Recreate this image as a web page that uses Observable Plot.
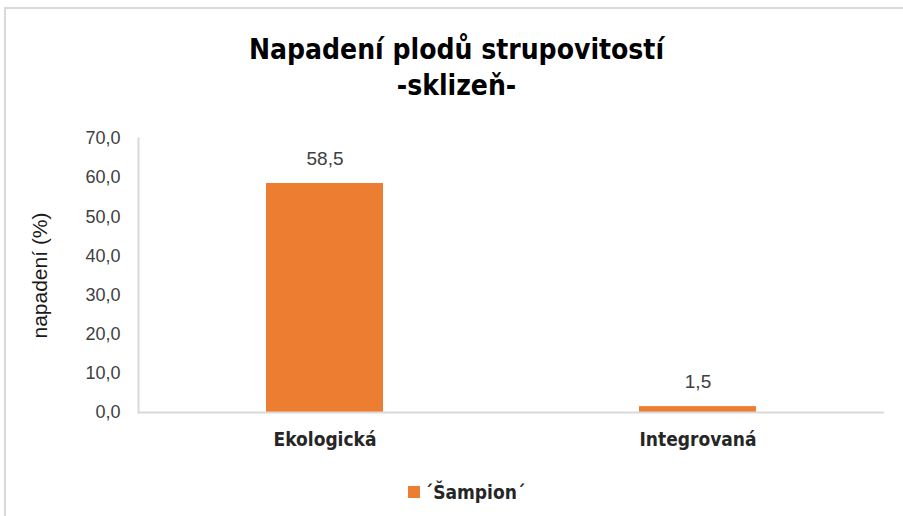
<!DOCTYPE html>
<html>
<head>
<meta charset="utf-8">
<script src="https://cdn.jsdelivr.net/npm/d3@7"></script>
<script src="https://cdn.jsdelivr.net/npm/@observablehq/plot@0.6"></script>
<style>
  html, body { margin: 0; padding: 0; background: #fff; }
  #wrap { position: relative; width: 903px; height: 516px; overflow: hidden; background: #fff; }
  #edge { position: absolute; left: 4px; top: 7px; right: -10px; bottom: -10px;
          border-top: 2px solid #d9d9d9; border-left: 2px solid #d9d9d9; pointer-events: none; }
  #title { height: 118px; box-sizing: border-box; padding-top: 32px; padding-left: 10px; text-align: center;
           font-family: "DejaVu Sans Condensed", "DejaVu Sans", sans-serif; font-stretch: condensed; font-weight: bold;
           font-size: 28px; line-height: 36px; color: #000; }
  #legend { height: 48px; display: flex; justify-content: center; align-items: center; padding-left: 30px;
            font-family: "DejaVu Sans Condensed", "DejaVu Sans", sans-serif; font-stretch: condensed; font-weight: bold;
            font-size: 19px; color: #262626; }
  #legend .sw { width: 12px; height: 12px; background: #ED7D31; margin-right: 5px; }
  svg { display: block; }
</style>
</head>
<body>
<div id="wrap">
  <div id="title">Napadení plodů strupovitostí<br>-sklizeň-</div>
  <div id="chart"></div>
  <div id="legend"><span class="sw"></span><span>´Šampion´</span></div>
  <div id="edge"></div>
</div>
<script>
const categories = ["Ekologická", "Integrovaná"];
const values = [58.5, 1.5];
const seriesName = "´Šampion´";
const yTicks = [0, 10, 20, 30, 40, 50, 60, 70];
const yLabel = "napadení (%)";

const data = categories.map((c, i) => ({category: c, value: values[i]}));
const fmt = v => d3.format(".1f")(v).replace(".", ",");

const plot = Plot.plot({
  width: 903,
  height: 350,
  marginTop: 20,
  marginBottom: 56,
  marginLeft: 138,
  marginRight: 19,
  style: {fontFamily: "Liberation Sans, sans-serif", fontSize: "18px", color: "#404040", background: "#fff"},
  x: {domain: categories, paddingInner: 0.686, paddingOuter: 0.343, label: null},
  y: {domain: [0, 70], label: null},
  marks: [
    Plot.frame({anchor: "left", stroke: "#d9d9d9", strokeWidth: 2}),
    Plot.barY(data, {x: "category", y: "value", fill: "#ED7D31"}),
    Plot.ruleY([0], {stroke: "#d9d9d9", strokeWidth: 2}),
    Plot.text(data, {x: "category", y: "value", text: d => fmt(d.value), dy: -25, fill: "#404040", fontSize: 19}),
    Plot.axisY({ticks: yTicks, tickFormat: fmt, tickSize: 0, tickPadding: 18, fill: "#404040", fontSize: 18, label: null}),
    Plot.text([yLabel], {text: d => d, frameAnchor: "left", textAnchor: "middle", dx: -98, rotate: -90, fontSize: 21, fill: "#1a1a1a"}),
    Plot.axisX({tickSize: 0, tickPadding: 20, fontFamily: "DejaVu Sans Condensed, DejaVu Sans, sans-serif",
                fontWeight: "bold", fontSize: 19, fill: "#262626", label: null})
  ]
});
document.getElementById("chart").appendChild(plot);
plot.querySelectorAll("[aria-label='x-axis tick label'] text").forEach(e => {
  e.style.fontStretch = "condensed";
});
</script>
</body>
</html>
